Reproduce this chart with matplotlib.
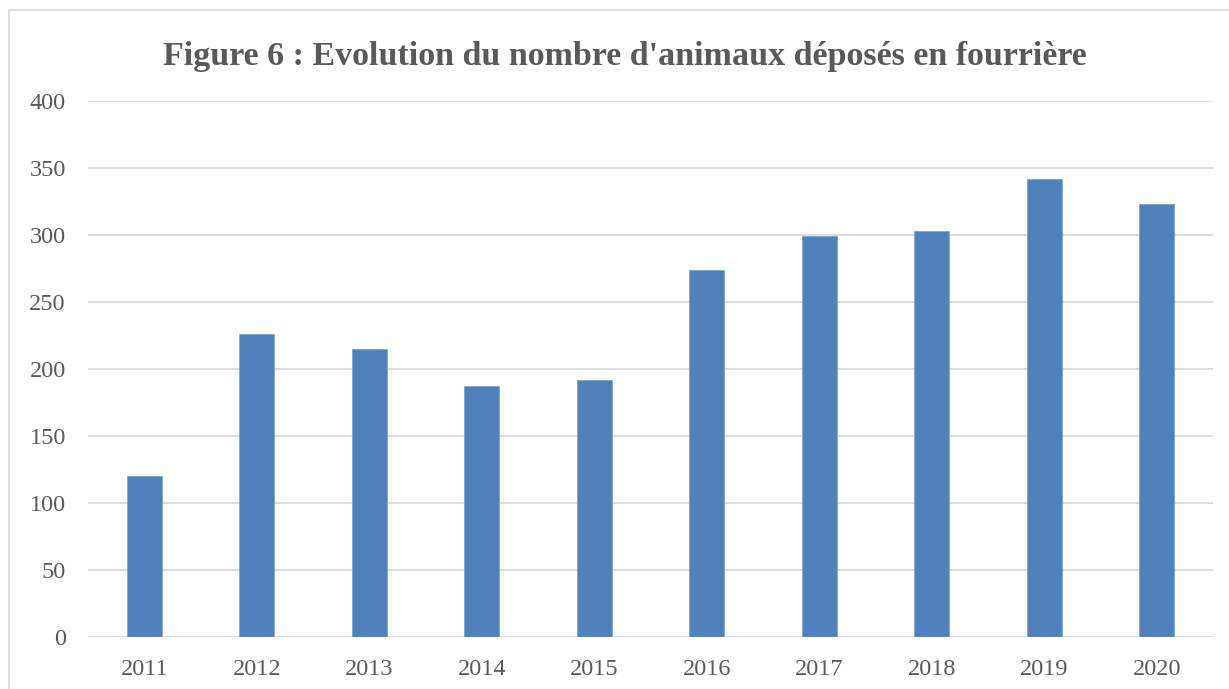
import matplotlib.pyplot as plt
from matplotlib.patches import Rectangle

years = ['2011', '2012', '2013', '2014', '2015', '2016', '2017', '2018', '2019', '2020']
animaux = [120, 226, 215, 187, 192, 274, 299, 303, 342, 323]

plt.rcParams['font.family'] = ['Liberation Serif', 'DejaVu Serif']
txt = '#595959'
grid = '#D9D9D9'

fig = plt.figure(figsize=(12.29, 6.89), dpi=100)
ax = fig.add_axes([88 / 1229, 1 - 637 / 689, (1213 - 88) / 1229, (637 - 101) / 689])

# outer chart frame
fig.patches.append(Rectangle((9 / 1229, -0.05), 1.2, 1 - 10 / 689 + 0.05,
                             transform=fig.transFigure, fill=False,
                             edgecolor=grid, linewidth=1.2))

x = range(len(years))
ax.bar(x, animaux, width=0.31, color='#4F81BD', edgecolor='#7FA3D1', linewidth=0.6, zorder=3)

ax.set_xlim(-0.5, len(years) - 0.5)
ax.set_ylim(0, 400)
ax.set_yticks(range(0, 401, 50))
ax.set_xticks(list(x))
ax.set_xticklabels(years)
ax.grid(axis='y', color=grid, linewidth=1.3, zorder=0)
for s in ax.spines.values():
    s.set_visible(False)
ax.tick_params(axis='both', length=0, labelsize=17.5, colors=txt)
ax.tick_params(axis='y', pad=16)
ax.tick_params(axis='x', pad=16)

fig.text(625 / 1229, 1 - 57 / 689, "Figure 6 : Evolution du nombre d'animaux déposés en fourrière",
         ha='center', va='center', fontsize=24.5, fontweight='bold', color=txt)

fig.savefig('out.png', dpi=100)
